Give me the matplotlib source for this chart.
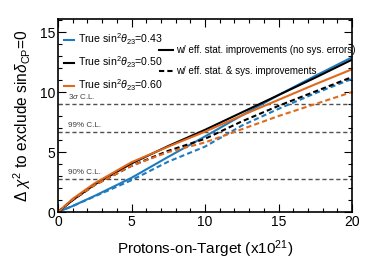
import numpy as np
import matplotlib
matplotlib.use("Agg")
import matplotlib.pyplot as plt
from matplotlib.lines import Line2D

plt.rcParams['font.family'] = ['Liberation Sans', 'DejaVu Sans']
plt.rcParams['mathtext.fontset'] = 'custom'
plt.rcParams['mathtext.rm'] = 'Liberation Sans'
plt.rcParams['mathtext.it'] = 'Liberation Sans:italic'

# POT (x10^21)
pot = [0, 1, 2.5, 5, 7.5, 10, 12.5, 15, 17.5, 20]

# w/ eff. stat. improvements (no sys. errors)
stat_043 = [0, 0.5, 1.35, 2.85, 4.6, 6.3, 8.05, 9.75, 11.35, 12.9]
stat_050 = [0, 1.0, 2.3, 4.05, 5.5, 6.85, 8.3, 9.75, 11.2, 12.7]
stat_060 = [0, 1.1, 2.4, 4.15, 5.45, 6.7, 8.05, 9.35, 10.65, 11.9]

# w/ eff. stat. & sys. improvements
sys_043 = [0, 0.5, 1.3, 2.65, 4.2, 5.45, 7.2, 8.6, 9.9, 11.1]
sys_050 = [0, 1.0, 2.25, 3.85, 5.1, 6.1, 7.55, 8.85, 10.05, 11.25]
sys_060 = [0, 1.05, 2.25, 3.85, 5.0, 5.8, 6.9, 8.0, 9.0, 10.0]

cl_values = [2.71, 6.63, 9.0]
cl_labels = ["90% C.L.", "99% C.L.", r"3$\sigma$ C.L."]

labels = [r"True sin$^2\theta_{23}$=0.43",
          r"True sin$^2\theta_{23}$=0.50",
          r"True sin$^2\theta_{23}$=0.60"]
colors = ["#1f7bc0", "black", "#e0691c"]

fig = plt.figure(figsize=(3.92, 2.66), dpi=100)
ax = fig.add_axes([0.148, 0.203, 0.75, 0.726])

for yv, txt in zip(cl_values, cl_labels):
    ax.axhline(yv, color="#505050", ls=(0, (3, 2)), lw=1.0)
    ax.text(0.7, yv + 0.25, txt, fontsize=5.8, color="#404040", va="bottom")

solid = [stat_043, stat_050, stat_060]
dashed = [sys_043, sys_050, sys_060]
for ys, c in zip(solid, colors):
    ax.plot(pot, ys, color=c, lw=1.5)
for ys, c in zip(dashed, colors):
    ax.plot(pot, ys, color=c, lw=1.5, ls=(0, (2.5, 1.5)))

ax.set_xlim(0, 20)
ax.set_ylim(0, 16.1)
ax.set_xticks([0, 5, 10, 15, 20])
ax.set_yticks([0, 5, 10, 15])
ax.set_xticks(np.arange(0, 21, 1), minor=True)
ax.set_yticks(np.arange(0, 17, 1), minor=True)
ax.tick_params(which="both", direction="in", top=True, right=True, labelsize=10, pad=2)
ax.tick_params(which="major", length=6, width=0.8)
ax.tick_params(which="minor", length=3, width=0.8)
for s in ax.spines.values():
    s.set_linewidth(1.2)

ax.set_xlabel(r"Protons-on-Target (x10$^{21}$)", fontsize=11, labelpad=7)
ax.set_ylabel(r"$\Delta\ \chi^2$ to exclude sin$\delta_{\rm CP}$=0", fontsize=11.2, labelpad=5)

h1 = [Line2D([], [], color=c, lw=1.5) for c in colors]
leg1 = ax.legend(h1, labels, loc="upper left", bbox_to_anchor=(0.0, 0.968), frameon=False,
                 fontsize=7.6, handlelength=0.9, handletextpad=0.35, labelspacing=0.72,
                 borderaxespad=0.2)
ax.add_artist(leg1)

h2 = [Line2D([], [], color="black", lw=1.5),
      Line2D([], [], color="black", lw=1.5, ls=(0, (2.5, 1.5)))]
ax.legend(h2, ["w/ eff. stat. improvements (no sys. errors)",
               "w/ eff. stat. & sys. improvements"],
          loc="upper left", bbox_to_anchor=(0.325, 0.895), frameon=False,
          fontsize=7.0, handlelength=1.4, handletextpad=0.3, labelspacing=1.15,
          borderaxespad=0.2)

fig.savefig("out.png", dpi=100)
